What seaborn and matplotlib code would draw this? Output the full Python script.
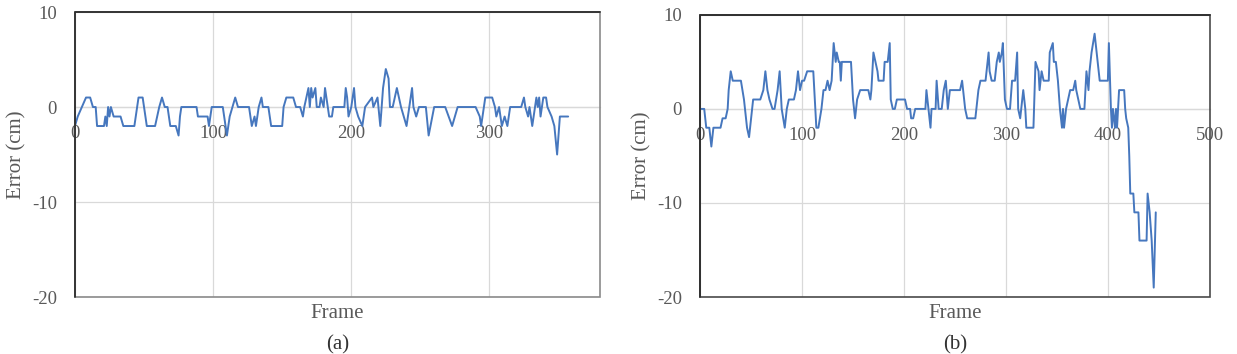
import matplotlib
matplotlib.use("Agg")
import matplotlib.pyplot as plt
from matplotlib.patches import Rectangle
import seaborn as sns
import pandas as pd

# ---------------- data (keypoints) ----------------
frames_a = [0, 2, 5, 8, 11, 13, 15, 16, 21, 22, 23, 24, 25, 26, 28, 33, 35, 43, 45, 46, 49, 50, 52, 58,
            61, 63, 65, 67, 69, 73, 75, 76, 77, 88, 89, 96, 97, 98, 99, 107, 108, 110, 112, 114, 116, 118,
            124, 126, 128, 130, 131, 133, 135, 136, 140, 142, 150, 151, 153, 158, 160, 163, 165, 166, 169,
            170, 171, 172, 174, 175, 177, 178, 180, 181, 183, 184, 186, 187, 195, 196, 197, 198, 200, 202,
            203, 205, 208, 210, 215, 216, 219, 221, 223, 225, 227, 228, 230, 233, 236, 238, 240, 242, 244,
            245, 247, 249, 254, 256, 260, 268, 273, 277, 290, 293, 294, 295, 297, 302, 304, 305, 307, 309,
            311, 313, 315, 323, 325, 326, 328, 329, 331, 334, 335, 336, 337, 339, 341, 342, 345, 347, 349,
            351, 357]
error_a = [-2, -1, 0, 1, 1, 0, 0, -2, -2, -1, -2, 0, -1, 0, -1, -1, -2, -2, 0, 1, 1, 0, -2, -2,
           0, 1, 0, 0, -2, -2, -3, -1, 0, 0, -1, -1, -2, -1, 0, 0, -1, -3, -1, 0, 1, 0,
           0, 0, -2, -1, -2, 0, 1, 0, 0, -2, -2, 0, 1, 1, 0, 0, -1, 0, 2,
           0, 2, 1, 2, 0, 0, 1, 0, 2, 0, -1, -1, 0, 0, 2, 1, -1, 0, 2,
           0, -1, -2, 0, 1, 0, 1, -2, 2, 4, 3, 0, 0, 2, 0, -1, -2, 0, 2,
           0, -1, 0, 0, -3, 0, 0, -2, 0, 0, -1, -2, -1, 1, 1, 0, -1, 0, -2,
           -1, -2, 0, 0, 1, 0, -1, 0, -2, 1, 0, 1, -1, 1, 1, 0, -1, -2, -5,
           -1, -1]

frames_b = [0, 4, 6, 9, 11, 13, 20, 22, 25, 27, 28, 30, 32, 40, 43, 46, 48, 50, 52, 59, 62, 64, 66, 68,
            71, 73, 76, 78, 80, 83, 85, 87, 92, 94, 96, 98, 100, 102, 105, 111, 114, 116, 119, 121, 123,
            125, 127, 129, 131, 133, 134, 136, 137, 138, 139, 148, 150, 152, 154, 157, 165, 167, 168, 170,
            172, 174, 175, 180, 181, 184, 186, 187, 189, 191, 193, 201, 203, 206, 207, 209, 211, 221, 222,
            224, 226, 227, 231, 232, 234, 237, 239, 241, 243, 245, 247, 255, 257, 258, 260, 262, 270, 271,
            273, 275, 280, 281, 283, 284, 286, 289, 291, 293, 294, 296, 297, 299, 301, 304, 306, 309, 311,
            312, 314, 315, 317, 319, 320, 327, 329, 332, 333, 335, 337, 342, 343, 346, 347, 349, 351, 353,
            355, 356, 357, 359, 361, 363, 366, 368, 369, 371, 373, 377, 379, 381, 382, 384, 387, 389, 390,
            392, 400, 401, 403, 404, 405, 407, 408, 409, 411, 416, 417, 418, 420, 421, 422, 425, 426, 430,
            431, 438, 439, 441, 443, 445, 447]
error_b = [0, 0, -2, -2, -4, -2, -2, -1, -1, 0, 2, 4, 3, 3, 1, -2, -3, -1, 1, 1, 2, 4, 2, 1,
           0, 0, 2, 4, 0, -2, 0, 1, 1, 2, 4, 2, 3, 3, 4, 4, -2, -2, 0, 2, 2,
           3, 2, 3, 7, 5, 6, 5, 5, 3, 5, 5, 1, -1, 1, 2, 2, 1, 2, 6,
           5, 4, 3, 3, 5, 5, 7, 1, 0, 0, 1, 1, 0, 0, -1, -1, 0, 0, 2,
           0, -2, 0, 0, 3, 0, 0, 2, 3, 0, 2, 2, 2, 3, 2, 0, -1, -1, 0,
           2, 3, 3, 4, 6, 4, 3, 3, 5, 6, 5, 6, 7, 1, 0, 0, 3, 3, 6,
           0, -1, 0, 2, 0, -2, -2, 5, 4, 2, 4, 3, 3, 6, 7, 5, 5, 3, 0,
           -2, 0, -2, 0, 1, 2, 2, 3, 2, 1, 0, 0, 4, 2, 4, 6, 8, 6, 5,
           3, 3, 7, 0, -2, 0, -2, 0, -2, 2, 2, 0, -1, -2, -5, -9, -9, -11, -11,
           -14, -14, -9, -11, -14, -19, -11]

x_ticks_a = [0, 100, 200, 300]
x_ticks_b = [0, 100, 200, 300, 400, 500]
y_ticks = [10, 0, -10, -20]
captions = ["(a)", "(b)"]

# ---------------- style ----------------
sns.set_theme(style="white")
plt.rcParams["font.family"] = ["Liberation Serif", "DejaVu Serif"]
plt.rcParams["axes.unicode_minus"] = False

LINE = "#4677be"
TXT = "#595959"
GRID = "#d9d9d9"

fig = plt.figure(figsize=(12.37, 3.54), dpi=100)
ax_a = fig.add_axes([0.0606, 0.161, 0.4244, 0.805])
ax_b = fig.add_axes([0.566, 0.161, 0.412, 0.797])

panels = [
    (ax_a, frames_a, error_a, x_ticks_a, (0, 380), "#8a8a8a"),
    (ax_b, frames_b, error_b, x_ticks_b, (0, 500), "#4a4a4a"),
]

for i, (ax, fx, ey, xt, xl, frame_c) in enumerate(panels):
    df = pd.DataFrame({"Frame": fx, "Error (cm)": ey})
    sns.lineplot(data=df, x="Frame", y="Error (cm)", ax=ax, color=LINE,
                 linewidth=1.4, estimator=None, sort=False, zorder=3)
    ax.set_xlim(*xl)
    ax.set_ylim(-20, 10)
    ax.set_xticks(xt)
    ax.set_yticks(y_ticks)
    ax.set_xticklabels([str(v) for v in xt])
    ax.set_yticklabels([str(v) for v in y_ticks])
    ax.grid(True, color=GRID, linewidth=0.9, zorder=0)
    for s in ["top", "right", "left"]:
        ax.spines[s].set_visible(False)
    ax.spines["bottom"].set_position(("data", 0))
    ax.spines["bottom"].set_color(GRID)
    ax.spines["bottom"].set_linewidth(0.9)
    # outer frame: bottom/right lighter, left/top dark
    ax.add_patch(Rectangle((0, 0), 1, 1, transform=ax.transAxes, fill=False,
                           ec=frame_c, lw=1.2, clip_on=False, zorder=5))
    ax.plot([0, 0, 1], [0, 1, 1], transform=ax.transAxes, color="#2e2e2e",
            lw=1.3, clip_on=False, zorder=6)
    ax.tick_params(axis="x", length=0, pad=13, labelsize=13.5, colors=TXT)
    ax.tick_params(axis="y", length=0, pad=13, labelsize=13.5, colors=TXT)
    ax.set_xlabel("Frame", fontsize=15, color=TXT)
    ax.xaxis.set_label_coords(0.5, -0.025)
    ax.set_ylabel("Error (cm)", fontsize=15, color=TXT, labelpad=4)
    pos = ax.get_position()
    fig.text((pos.x0 + pos.x1) / 2, 0.025, captions[i], ha="center", va="center",
             fontsize=15, color="#333333")

fig.savefig("out.png", dpi=100, facecolor="white")
